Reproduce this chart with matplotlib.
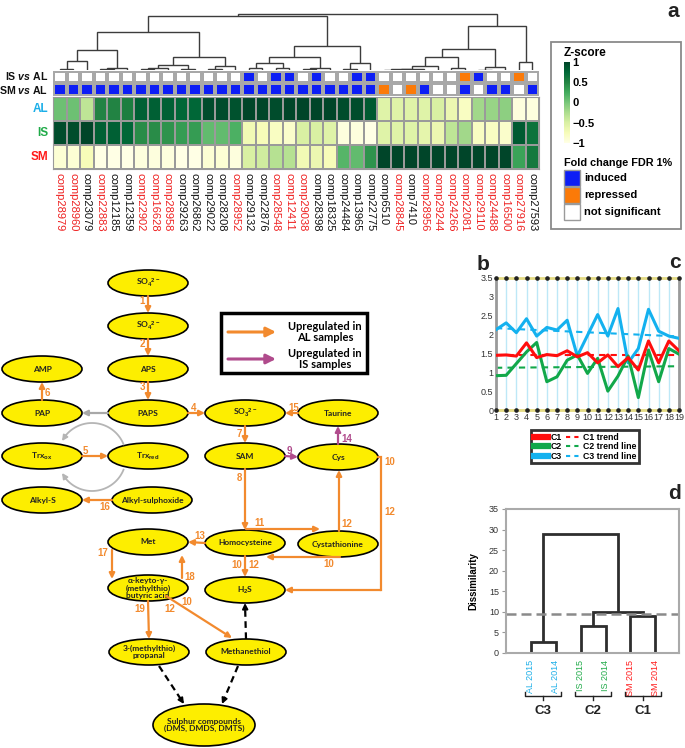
import numpy as np
import matplotlib
matplotlib.use('Agg')
import matplotlib.pyplot as plt
from matplotlib.colors import ListedColormap
from matplotlib.patches import Ellipse, Rectangle
from matplotlib.lines import Line2D
import matplotlib.transforms as mtrans

plt.rcParams['font.family'] = ['Liberation Sans', 'DejaVu Sans']
plt.rcParams['mathtext.fontset'] = 'custom'
plt.rcParams['mathtext.rm'] = 'Liberation Sans:bold'
plt.rcParams['mathtext.it'] = 'Liberation Sans:bold:italic'
plt.rcParams['mathtext.bf'] = 'Liberation Sans:bold'
plt.rcParams['mathtext.default'] = 'rm'

W, H = 685, 748

# ---------------- panel a data
genes = ['comp28979', 'comp28960', 'comp23079', 'comp22883', 'comp12185', 'comp12359',
         'comp22902', 'comp16628', 'comp28958', 'comp29263', 'comp26862', 'comp29022',
         'comp28208', 'comp28952', 'comp29132', 'comp22876', 'comp28548', 'comp12411',
         'comp29038', 'comp28398', 'comp18325', 'comp24484', 'comp13965', 'comp22775',
         'comp6510', 'comp28845', 'comp7410', 'comp28956', 'comp29244', 'comp24266',
         'comp22081', 'comp29110', 'comp24488', 'comp16500', 'comp27916', 'comp27593']
gene_red = [1, 1, 0, 1, 0, 0, 1, 1, 1, 0, 0, 0, 0, 1, 0, 0, 1, 1,
            1, 0, 0, 0, 0, 0, 0, 1, 0, 1, 1, 1, 1, 1, 1, 1, 1, 0]
z_al = [0.05, 0.05, -0.35, 0.5, 0.5, 0.55, 0.8, 0.8, 0.8, 0.75, 0.75, 0.95,
        0.95, 0.9, 1.0, 1.0, 0.95, 1.0, 1.0, 1.0, 1.0, 0.95, 0.95, 0.85,
        -0.55, -0.55, -0.55, -0.55, -0.5, -0.65, -0.8, -0.2, -0.15, -0.1, -0.95, -0.95]
z_is = [0.95, 0.95, 1.0, 0.8, 0.8, 0.75, 0.45, 0.45, 0.4, 0.35, 0.35, 0.1,
        0.1, 0.2, -0.7, -0.75, -0.8, -0.85, -0.5, -0.5, -0.55, -0.95, -0.95, -1.0,
        -0.55, -0.55, -0.55, -0.6, -0.65, -0.35, -0.2, -0.8, -0.8, -0.85, 0.85, 0.65]
z_sm = [-0.9, -0.9, -0.75, -1.0, -1.0, -1.0, -0.95, -0.95, -0.95, -1.0, -1.0, -0.9,
        -0.9, -0.95, -0.5, -0.45, -0.3, -0.3, -0.7, -0.65, -0.75, 0.15, 0.1, 0.4,
        1.0, 1.0, 1.0, 1.0, 1.0, 1.0, 1.0, 1.0, 1.0, 1.0, 0.3, 0.6]
# 0 = not significant, 1 = induced, 2 = repressed
is_vs_al = [0, 0, 0, 0, 0, 0, 0, 0, 0, 0, 0, 0, 0, 0, 1, 0, 1, 1,
            0, 1, 0, 0, 1, 1, 0, 0, 0, 0, 0, 0, 2, 1, 0, 0, 2, 0]
sm_vs_al = [1, 1, 1, 1, 1, 1, 1, 1, 1, 1, 1, 1, 1, 1, 1, 1, 1, 1,
            1, 1, 1, 1, 1, 1, 2, 0, 2, 1, 0, 0, 1, 0, 1, 1, 0, 1]
# (left, right, height) linkage, ids >= 36 are earlier merges
gene_merges = [(0, 1, 1.0), (36, 2, 9.0), (3, 4, 0.8), (38, 5, 2.0), (37, 39, 20.0),
               (6, 7, 1.0), (41, 8, 2.0), (9, 10, 0.8), (42, 43, 5.0), (11, 12, 0.8),
               (45, 13, 4.0), (44, 46, 12.7), (40, 47, 38.0), (14, 15, 2.0), (16, 17, 2.0),
               (49, 50, 7.3), (18, 19, 0.8), (52, 20, 2.0), (51, 53, 13.3), (21, 22, 1.0),
               (55, 23, 6.7), (54, 56, 24.0), (48, 57, 54.3), (24, 25, 0.3), (59, 26, 0.8),
               (60, 27, 1.5), (61, 28, 4.3), (29, 30, 2.3), (62, 63, 12.7), (31, 32, 0.5),
               (65, 33, 3.3), (64, 66, 20.7), (34, 35, 8.3), (67, 68, 44.0), (58, 69, 55.7)]

# ---------------- panel c data
weeks = list(range(1, 20))
c1 = [1.45, 1.46, 1.43, 1.78, 1.39, 1.47, 1.44, 1.57, 1.41, 1.52,
      1.25, 1.46, 1.15, 1.39, 1.06, 1.83, 1.25, 1.83, 1.57]
c2 = [0.91, 0.92, 1.23, 1.54, 1.79, 0.75, 0.88, 1.32, 1.46, 0.97,
      1.37, 0.50, 0.90, 1.43, 0.33, 1.59, 0.75, 1.63, 1.48]
c3 = [2.13, 2.31, 2.05, 2.42, 1.96, 2.19, 2.12, 2.38, 1.43, 1.98,
      2.53, 1.96, 2.69, 1.25, 1.63, 2.67, 2.09, 1.96, 1.90]
trend_c1 = [1.45, 1.45]
trend_c2 = [1.12, 1.16]
trend_c3 = [2.17, 1.95]

# ---------------- panel d data
samples = ['AL 2015', 'AL 2014', 'IS 2015', 'IS 2014', 'SM 2015', 'SM 2014']
sample_merges = [(0, 1, 2.7), (2, 3, 6.6), (4, 5, 9.05), (7, 8, 9.95), (6, 9, 28.9)]
cut_level = 9.45
cluster_names = ['C3', 'C2', 'C1']

BLUE_T = '#1aaee8'
GREEN_T = '#1faa48'
RED_T = '#ff1a1a'
ORANGE = '#f28a2e'
PURPLE = '#b04b8c'


def rect(x0, y0, x1, y1):
    return [x0 / W, 1 - y1 / H, (x1 - x0) / W, (y1 - y0) / H]


def draw_dendro(ax, merges, xpos, color, lw):
    n = len(xpos)
    xs = {i: xpos[i] for i in range(n)}
    hs = {i: 0.0 for i in range(n)}
    for k, (a, b, h) in enumerate(merges):
        ax.plot([xs[a], xs[a], xs[b], xs[b]], [hs[a], h, h, hs[b]],
                color=color, lw=lw, solid_joinstyle='miter', solid_capstyle='butt')
        xs[n + k] = (xs[a] + xs[b]) / 2
        hs[n + k] = h


fig = plt.figure(figsize=(W / 100, H / 100), dpi=100)

# overlay in pixel coordinates (panel b diagram, frames, letters)
ax0 = fig.add_axes([0, 0, 1, 1])
ax0.set_xlim(0, W)
ax0.set_ylim(H, 0)
ax0.axis('off')

# ================= panel a
ax_d = fig.add_axes(rect(53, 8, 539, 70))
draw_dendro(ax_d, gene_merges, [i + 0.5 for i in range(36)], '#3c3c3c', 1.0)
ax_d.set_xlim(0, 36)
ax_d.set_ylim(0, 62)
ax_d.axis('off')

ax_ann = fig.add_axes(rect(53, 70.5, 539, 95.5))
ann_cmap = ListedColormap(['white', '#0d1ef5', '#fb7a08'])
ax_ann.pcolormesh(np.arange(37), np.arange(3), np.array([is_vs_al, sm_vs_al]),
                  cmap=ann_cmap, vmin=-0.5, vmax=2.5, edgecolors='#a8a8a8', linewidth=1.6)
ax_ann.set_ylim(2, 0)
ax_ann.axis('off')

ax_h = fig.add_axes(rect(53, 96.5, 539, 168.5))
mesh = ax_h.pcolormesh(np.arange(37), np.arange(4), np.array([z_al, z_is, z_sm]),
                       cmap='YlGn', vmin=-1, vmax=1, edgecolors='#9a9a9a', linewidth=1.2)
ax_h.set_ylim(3, 0)
ax_h.set_yticks([])
ax_h.set_xticks(np.arange(36) + 0.5, genes, rotation=-90, fontsize=8)
ax_h.tick_params(axis='x', length=0, pad=3)
for lab, r in zip(ax_h.get_xticklabels(), gene_red):
    lab.set_color('#ee2020' if r else '#111111')
for s in ax_h.spines.values():
    s.set_color('#9a9a9a')

for txt, y, col, fs in [('IS $\\mathit{vs}$ AL', 76, '#111111', 7.6),
                        ('SM $\\mathit{vs}$ AL', 89.5, '#111111', 7.6),
                        ('AL', 109, BLUE_T, 8.5), ('IS', 133, GREEN_T, 8.5),
                        ('SM', 157, RED_T, 8.5)]:
    ax0.text(48, y, txt, ha='right', va='center', fontsize=fs, fontweight='bold', color=col)

# heatmap legend
ax0.add_patch(Rectangle((551, 42), 130, 187, fill=False, ec='#8a8a8a', lw=1.3))
ax0.text(564, 53, 'Z-score', fontsize=8.5, fontweight='bold', va='center')
cax = fig.add_axes(rect(564, 62, 570, 143))
cb = fig.colorbar(mesh, cax=cax, ticks=[-1, -0.5, 0, 0.5, 1])
cb.outline.set_visible(False)
cax.set_yticklabels(['\u22121', '\u22120.5', '0', '0.5', '1'], fontsize=8, fontweight='bold')
cax.tick_params(length=0, pad=1.5)
ax0.text(564, 163, 'Fold change FDR 1%', fontsize=7.8, fontweight='bold', va='center')
for i, (fc, lab) in enumerate([('#0d1ef5', 'induced'), ('#fb7a08', 'repressed'),
                               ('white', 'not significant')]):
    ax0.add_patch(Rectangle((564, 170 + i * 17), 16, 16, fc=fc, ec='#9a9a9a', lw=1))
    ax0.text(584, 178 + i * 17, lab, fontsize=8, fontweight='bold', va='center')

# ================= panel b (pathway diagram)
node_text = {
    'so4a': 'SO$_4$$^{2-}$', 'so4b': 'SO$_4$$^{2-}$', 'aps': 'APS', 'paps': 'PAPS',
    'amp': 'AMP', 'pap': 'PAP', 'trxox': 'Trx$_{ox}$', 'trxred': 'Trx$_{red}$',
    'so3': 'SO$_3$$^{2-}$', 'taurine': 'Taurine', 'sam': 'SAM', 'cys': 'Cys',
    'alkyls': 'Alkyl-S', 'alkylso': 'Alkyl-sulphoxide', 'met': 'Met',
    'hcy': 'Homocysteine', 'cysta': 'Cystathionine',
    'kmba': '\u03b1-keyto-\u03b3-\n(methylthio)\nbutyric acid', 'h2s': 'H$_2$S',
    'mtp': '3-(methylthio)\npropanal', 'mt': 'Methanethiol',
    'sulph': 'Sulphur compounds\n(DMS, DMDS, DMTS)'}
node_pos = {
    'so4a': (148, 283), 'so4b': (148, 326), 'aps': (148, 369), 'paps': (148, 413),
    'amp': (42, 369), 'pap': (42, 413), 'trxox': (42, 456), 'trxred': (148, 456),
    'so3': (245, 413), 'taurine': (338, 413), 'sam': (245, 456), 'cys': (338, 457),
    'alkyls': (42, 500), 'alkylso': (152, 500), 'met': (148, 542), 'hcy': (245, 543),
    'cysta': (338, 544), 'kmba': (148, 588), 'h2s': (245, 590), 'mtp': (149, 652),
    'mt': (246, 652), 'sulph': (204, 725)}
NW, NH = 80, 26

for key, (cx, cy) in node_pos.items():
    w, h = (102, 42) if key == 'sulph' else (NW, NH)
    ax0.add_patch(Ellipse((cx, cy), w, h, fc='#fdee00', ec='black', lw=1.2))
    ax0.text(cx, cy, node_text[key], ha='center', va='center', fontsize=6,
             fontweight='bold', color='#222222', linespacing=1.0,
             family=['Lato', 'DejaVu Sans'])


def anchor(key, side):
    cx, cy = node_pos[key]
    return {'top': (cx, cy - NH / 2), 'bottom': (cx, cy + NH / 2),
            'left': (cx - NW / 2, cy), 'right': (cx + NW / 2, cy)}[side]


def arrow(p0, p1, color=ORANGE, lw=1.6):
    ax0.annotate('', xy=p1, xytext=p0,
                 arrowprops=dict(arrowstyle='-|>', color=color, lw=lw,
                                 mutation_scale=8, shrinkA=0, shrinkB=0))


def dashed_arrow(p0, p1):
    p0, p1 = np.array(p0, float), np.array(p1, float)
    d = (p1 - p0) / np.linalg.norm(p1 - p0)
    mid = p1 - d * 6
    ax0.plot([p0[0], mid[0]], [p0[1], mid[1]], color='black', lw=1.6, ls=(0, (3, 2)))
    arrow(mid, p1, color='black', lw=1.4)


arrow(anchor('so4a', 'bottom'), anchor('so4b', 'top'))
arrow(anchor('so4b', 'bottom'), anchor('aps', 'top'))
arrow(anchor('aps', 'bottom'), anchor('paps', 'top'))
arrow(anchor('pap', 'top'), anchor('amp', 'bottom'))
arrow(anchor('paps', 'left'), anchor('pap', 'right'), color='#a8a8a8')
arrow(anchor('paps', 'right'), anchor('so3', 'left'))
arrow(anchor('taurine', 'left'), anchor('so3', 'right'))
arrow(anchor('so3', 'bottom'), anchor('sam', 'top'))
arrow(anchor('sam', 'right'), anchor('cys', 'left'), color=PURPLE)
arrow(anchor('cys', 'top'), anchor('taurine', 'bottom'), color=PURPLE)
arrow(anchor('trxox', 'right'), anchor('trxred', 'left'))
arrow(anchor('alkylso', 'left'), anchor('alkyls', 'right'))
arrow(anchor('sam', 'bottom'), anchor('hcy', 'top'))
arrow((246, 529), (320, 529))
arrow((339, 531), (339, 470))
arrow((340, 557), (266, 557))
arrow(anchor('hcy', 'bottom'), anchor('h2s', 'top'))
ax0.plot([378, 381, 381], [457, 457, 590], color=ORANGE, lw=1.6, solid_joinstyle='miter')
arrow((381, 590), anchor('h2s', 'right'))
arrow(anchor('hcy', 'left'), anchor('met', 'right'))
arrow((112, 550), (112, 579))
arrow((182, 578), (182, 555))
arrow(anchor('kmba', 'bottom'), anchor('mtp', 'top'))
arrow((166, 596), (232, 638))
dashed_arrow(anchor('mt', 'top'), anchor('h2s', 'bottom'))
dashed_arrow((159, 666), (184, 704))
dashed_arrow((238, 666), (222, 704))

# thioredoxin recycling arcs
for sgn in (1, -1):
    th = np.radians(np.linspace(22, 140, 40))
    ax0.plot(92 + 34 * np.cos(th), 457 - sgn * 34 * np.sin(th), color='#b5b5b5', lw=1.3)
    t1, t2 = np.radians(140), np.radians(152)
    arrow((92 + 34 * np.cos(t1), 457 - sgn * 34 * np.sin(t1)),
          (92 + 34 * np.cos(t2), 457 - sgn * 34 * np.sin(t2)), color='#b5b5b5', lw=1.3)

step_labels = [('1', 142, 301, ORANGE), ('2', 142, 344, ORANGE), ('3', 142, 387, ORANGE),
               ('6', 47, 393, ORANGE), ('4', 194, 408, ORANGE), ('15', 294, 408, ORANGE),
               ('7', 239, 434, ORANGE), ('9', 289, 451, PURPLE), ('14', 347, 439, PURPLE),
               ('5', 85, 451, ORANGE), ('16', 105, 507, ORANGE), ('8', 239, 478, ORANGE),
               ('10', 390, 462, ORANGE), ('12', 390, 512, ORANGE), ('11', 260, 523, ORANGE),
               ('12', 347, 524, ORANGE), ('13', 200, 536, ORANGE), ('10', 329, 564, ORANGE),
               ('10', 237, 565, ORANGE), ('12', 254, 565, ORANGE), ('17', 103, 553, ORANGE),
               ('18', 190, 577, ORANGE), ('19', 140, 609, ORANGE), ('12', 170, 609, ORANGE),
               ('10', 187, 602, ORANGE)]
for t, x, y, c in step_labels:
    ax0.text(x, y, t, ha='center', va='center', fontsize=7, fontweight='bold', color=c)

# legend of panel b
ax0.add_patch(Rectangle((221, 313), 146, 60, fill=False, ec='black', lw=2.5))
for y, col, txt in [(332, ORANGE, 'Upregulated in\nAL samples'),
                    (359, PURPLE, 'Upregulated in\nIS samples')]:
    ax0.annotate('', xy=(276, y), xytext=(228, y),
                 arrowprops=dict(arrowstyle='-|>', color=col, lw=2.2,
                                 mutation_scale=14, shrinkA=0, shrinkB=0))
    ax0.text(325, y, txt, ha='center', va='center', fontsize=8, fontweight='bold',
             linespacing=1.0, family=['Lato', 'DejaVu Sans'])

# ================= panel c
ax_c = fig.add_axes(rect(496, 278, 679, 410))
ax_c.plot(weeks, c3, color='#13b1ef', lw=2.2, zorder=3)
ax_c.plot(weeks, c2, color='#11a84a', lw=2.2, zorder=3)
ax_c.plot(weeks, c1, color='#ff0d0d', lw=2.2, zorder=3)
ax_c.plot([weeks[0], weeks[-1]], trend_c1, color='#ff0d0d', lw=1.5, ls=(0, (3, 2.5)), zorder=2)
ax_c.plot([weeks[0], weeks[-1]], trend_c2, color='#11a84a', lw=1.5, ls=(0, (3, 2.5)), zorder=2)
ax_c.plot([weeks[0], weeks[-1]], trend_c3, color='#13b1ef', lw=1.5, ls=(0, (3, 2.5)), zorder=2)
ax_c.set_xlim(1, 19)
ax_c.set_ylim(0, 3.5)
ax_c.set_xticks(weeks)
ax_c.set_yticks([0, 0.5, 1, 1.5, 2, 2.5, 3, 3.5], ['0', '0.5', '1', '1.5', '2', '2.5', '3', '3.5'])
ax_c.tick_params(length=0, labelsize=6.5, pad=2, labelcolor='#333333')
ax_c.grid(axis='x', color='#bde8f7', lw=1)
for side in ('left', 'right'):
    ax_c.spines[side].set_color('#9a9a9a')
    ax_c.spines[side].set_linewidth(2)
for side in ('top', 'bottom'):
    ax_c.spines[side].set_color('#e4da84')
    ax_c.spines[side].set_linewidth(2)
for yv in (0, 3.5):
    ax_c.plot(weeks, [yv] * len(weeks), 'o', ms=2.3, color='#222222', clip_on=False, zorder=5)

handles = [Line2D([], [], color='#ff0d0d', lw=4.5), Line2D([], [], color='#11a84a', lw=4.5),
           Line2D([], [], color='#13b1ef', lw=4.5),
           Line2D([], [], color='#ff0d0d', lw=1.5, ls=(0, (2, 2))),
           Line2D([], [], color='#11a84a', lw=1.5, ls=(0, (2, 2))),
           Line2D([], [], color='#13b1ef', lw=1.5, ls=(0, (2, 2)))]
leg = ax_c.legend(handles, ['C1', 'C2', 'C3', 'C1 trend', 'C2 trend line', 'C3 trend line'],
                  ncol=2, loc='upper left', bbox_to_anchor=(527 / W, 1 - 426 / H),
                  bbox_transform=fig.transFigure, handlelength=1.6,
                  handletextpad=0.3, columnspacing=0.5, labelspacing=0.05, borderpad=0.3,
                  fancybox=False, prop={'weight': 'bold', 'size': 6.3})
leg.get_frame().set_edgecolor('black')
leg.get_frame().set_linewidth(2)

# ================= panel d
ax_e = fig.add_axes(rect(506, 509, 679, 653))
leaf_x = [1, 2, 3, 4, 5, 6]
draw_dendro(ax_e, sample_merges, leaf_x, '#2e2e2e', 2.0)
ax_e.axhline(cut_level, color='#8a8a8a', lw=1.8, ls=(0, (4, 2)))
ax_e.set_xlim(0, 6.95)
ax_e.set_ylim(0, 35)
ax_e.set_yticks(range(0, 36, 5))
ax_e.tick_params(axis='y', labelsize=6.5, length=3, color='#999999', labelcolor='#333333', pad=2)
ax_e.set_xticks(leaf_x, samples, rotation=90, fontsize=6.5)
ax_e.tick_params(axis='x', length=0, pad=5)
for lab, col in zip(ax_e.get_xticklabels(), [BLUE_T, BLUE_T, GREEN_T, GREEN_T, RED_T, RED_T]):
    lab.set_color(col)
for s in ax_e.spines.values():
    s.set_color('#aaaaaa')
    s.set_linewidth(1.5)
ax_e.set_ylabel('Dissimilarity', fontsize=7, fontweight='bold', labelpad=8)

tr = mtrans.blended_transform_factory(ax_e.transData, ax_e.transAxes)
for k, name in enumerate(cluster_names):
    a, b = leaf_x[2 * k] - 0.22, leaf_x[2 * k + 1] + 0.22
    m = (a + b) / 2
    ax_e.plot([a, a, b, b], [-0.27, -0.3, -0.3, -0.27], color='#222222', lw=1,
              transform=tr, clip_on=False)
    ax_e.plot([m, m], [-0.3, -0.325], color='#222222', lw=1, transform=tr, clip_on=False)
    ax_e.text(m, -0.4, name, transform=tr, ha='center', va='center', fontsize=9.5,
              fontweight='bold', color='#222222')

# panel letters
for t, x, y in [('a', 673, 11), ('b', 483, 264), ('c', 675, 262), ('d', 675, 493)]:
    ax0.text(x, y, t, ha='center', va='center', fontsize=15, fontweight='bold', color='#222222')

fig.savefig('out.png', dpi=100)
